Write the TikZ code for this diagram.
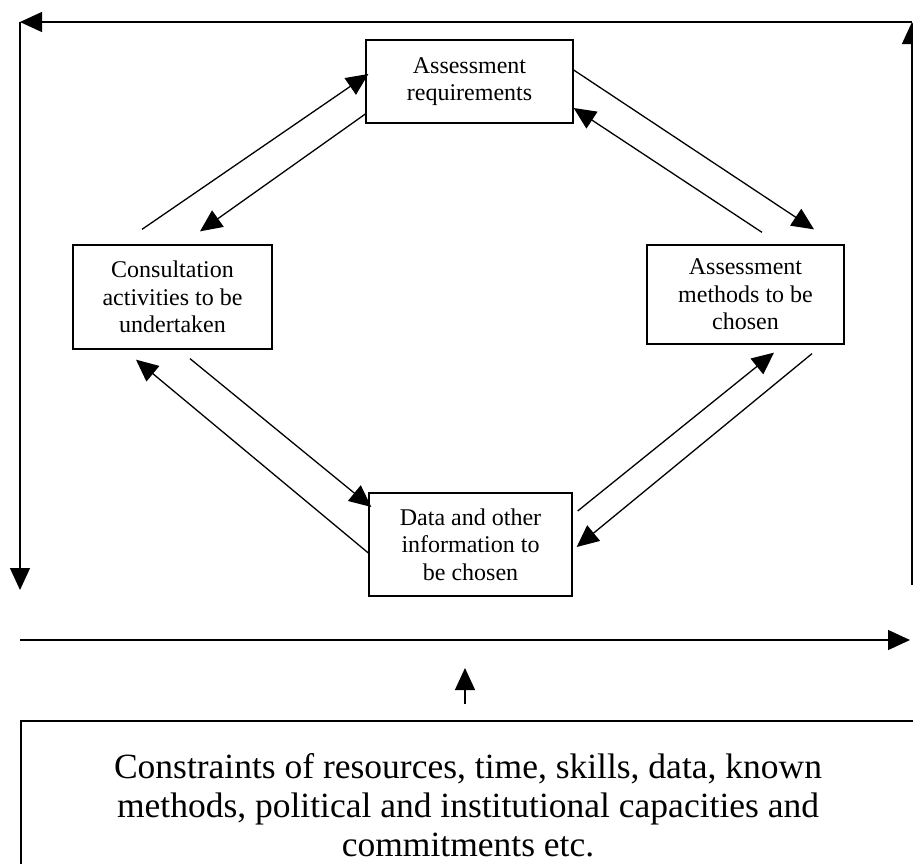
\documentclass[tikz,border=0pt]{standalone}
\usepackage{fontspec}
\setmainfont{Liberation Serif}
\usetikzlibrary{arrows.meta,positioning}

\begin{document}
\begin{tikzpicture}[
    x=1pt,y=-1pt,
    line width=1.3pt,
    stage/.style={rectangle,draw,align=center,inner sep=2pt,font=\fontsize{24}{27.5}\selectfont},
    limits/.style={rectangle,draw,align=center,minimum width=894pt,minimum height=169pt,font=\fontsize{35.5}{39}\selectfont},
    arrow/.style={-{Triangle[length=22pt,width=20pt]}}
]
\useasboundingbox (0,0) rectangle (913,863);

% The four stages
\node[stage,minimum width=207pt,minimum height=83pt] (req) at (469.5,81.5) {Assessment\\requirements};
\node[stage,minimum width=197pt,minimum height=99pt] (methods) at (745.5,294.5) {Assessment\\methods to be\\chosen};
\node[stage,minimum width=199pt,minimum height=104pt] (consult) at (172.5,297) {Consultation\\activities to be\\undertaken};
\node[stage,minimum width=203pt,minimum height=103pt] (data) at (470.5,544.5) {Data and other\\information to\\be chosen};

% Constraints box at the bottom
\node[limits] (limits) at (468,805.5) {Constraints of resources, time, skills, data, known\\methods, political and institutional capacities and\\commitments etc.};

% Frame corners
\coordinate (topright) at (912,22);
\coordinate (topleft) at (20,22);
\coordinate (leftend) at (20,590);
\coordinate (rightend) at (912,585);
\coordinate (lineleft) at (20,640);
\coordinate (lineright) at (910,640);
\coordinate (uptip) at (465,668);

% Arrows between the stages
\draw[arrow] ([xshift=-30.5pt,yshift=15pt]consult.north) -- ([xshift=3pt,yshift=7.5pt]req.west);
\draw[arrow] ([yshift=-32.5pt]req.west) -- ([xshift=27.5pt,yshift=13pt]consult.north);
\draw[arrow] ([yshift=11.5pt]req.east) -- ([xshift=68.5pt,yshift=15pt]methods.north);
\draw[arrow] ([xshift=16.5pt,yshift=12pt]methods.north) -- ([yshift=-26.5pt]req.east);
\draw[arrow] ([xshift=5pt,yshift=33.5pt]data.east) -- ([xshift=28.5pt,yshift=-8pt]methods.south);
\draw[arrow] ([xshift=66.5pt,yshift=-9pt]methods.south) -- ([xshift=4pt,yshift=-2.5pt]data.east);
\draw[arrow] ([xshift=17.5pt,yshift=-9pt]consult.south) -- ([xshift=3pt,yshift=37.5pt]data.west);
\draw[arrow] ([yshift=-8.5pt]data.west) -- ([xshift=-36.5pt,yshift=-10pt]consult.south);

% Outer frame
\draw[arrow] (topright) -- (topleft);
\draw[arrow] (topleft) -- (leftend);
\draw[arrow] (rightend) -- (topright);
\draw[arrow] (lineleft) -- (lineright);
\draw[arrow] ([xshift=-3pt,yshift=16pt]limits.north) -- (uptip);

\end{tikzpicture}
\end{document}
